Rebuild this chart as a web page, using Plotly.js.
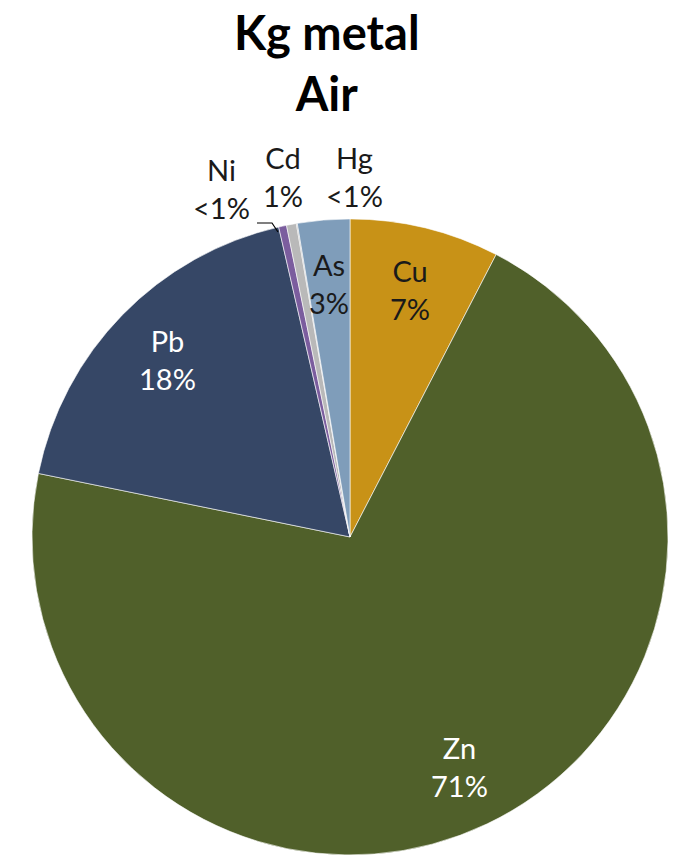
<!DOCTYPE html>
<html>
<head>
<meta charset="utf-8">
<script src="https://cdn.plot.ly/plotly-3.0.1.min.js"></script>
<style>html,body{margin:0;padding:0;background:#fff;}#chart{width:685px;height:855px;}</style>
</head>
<body>
<div id="chart"></div>
<script>
// Data (clockwise from 12 o'clock)
const metals = ["Cu", "Zn", "Pb", "Ni", "Cd", "Hg", "As"];
const values = [7.6, 70.6, 18.2, 0.4, 0.5, 0.05, 2.65];
const pctLabels = ["7%", "71%", "18%", "<1%", "1%", "<1%", "3%"];
const colors = ["#C89217", "#50602A", "#364766", "#7B5D9E", "#B9B9B9", "#A6A6A6", "#7F9DBA"];
const textColors = ["#1a1a1a", "#ffffff", "#ffffff", "#1a1a1a", "#1a1a1a", "#1a1a1a", "#1a1a1a"];
const outsideSet = ["Ni", "Cd", "Hg"];

const font = "Lato, 'Open Sans', sans-serif";
const W = 685, H = 855;
const domX = [0.0467, 0.9752], domY = [0, 0.744];

const trace = {
  type: "pie",
  labels: metals,
  values: values,
  textinfo: "none",
  sort: false,
  direction: "clockwise",
  rotation: 0,
  marker: { colors: colors, line: { color: "#ffffff", width: 0.6 } },
  hoverinfo: "label+percent",
  domain: { x: domX, y: domY },
  showlegend: false
};

// geometry of pie (from domain)
const cx = (domX[0] + domX[1]) / 2 * W;
const cy = H * (1 - (domY[0] + domY[1]) / 2);
const R = Math.min((domX[1] - domX[0]) * W, (domY[1] - domY[0]) * H) / 2;
const total = values.reduce((a, b) => a + b, 0);

// outside labels for tiny slices (paper coords, centred)
const outsidePos = { Ni: [0.324, 0.780], Cd: [0.413, 0.794], Hg: [0.518, 0.794] };

const annotations = [];
let cum = 0;
metals.forEach((m, i) => {
  const mid = (cum + values[i] / 2) / total * 2 * Math.PI;
  cum += values[i];
  let x, y;
  if (outsideSet.includes(m)) {
    x = outsidePos[m][0]; y = outsidePos[m][1];
  } else {
    const px = cx + 0.8 * R * Math.sin(mid);
    const py = cy - 0.8 * R * Math.cos(mid);
    x = px / W; y = 1 - py / H;
  }
  annotations.push({
    text: m + "<br>" + pctLabels[i],
    x: x, y: y, xref: "paper", yref: "paper",
    xanchor: "center", yanchor: "middle",
    showarrow: false, font: { family: font, size: 29, color: textColors[i] },
    align: "center"
  });
});

const layout = {
  width: W, height: H,
  margin: { l: 0, r: 0, t: 0, b: 0 },
  paper_bgcolor: "#ffffff",
  title: { text: "<b>Kg metal</b><br><b>Air</b>", font: { family: font, size: 47, color: "#000" }, x: 0.477, xanchor: "center", yref: "container", y: 1 - 50 / H, yanchor: "middle" },
  annotations: annotations,
  shapes: [{
    type: "path", xref: "paper", yref: "paper",
    path: "M " + (257 / W) + " " + (1 - 223 / H) + " L " + (272 / W) + " " + (1 - 223 / H) + " L " + (278 / W) + " " + (1 - 232 / H),
    line: { color: "#000", width: 1.2 }
  }]
};

Plotly.newPlot("chart", [trace], layout, { displayModeBar: false, staticPlot: true });
</script>
</body>
</html>
